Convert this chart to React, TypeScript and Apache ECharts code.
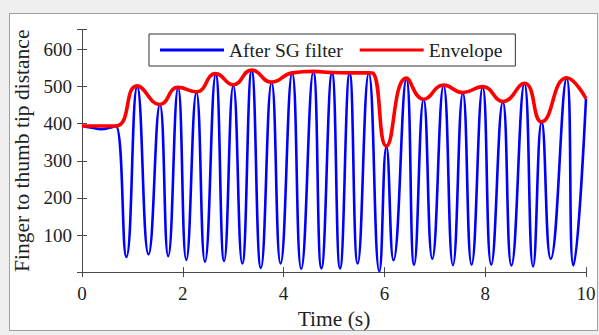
import React, { useEffect, useRef } from 'react';
import * as echarts from 'echarts';

// Savitzky-Golay filtered finger-to-thumb distance: turning points of the signal (s, px)
const sgTime = [
  0, 0.2, 0.38, 0.55, 0.67,
  0.88, 1.095, 1.32, 1.545, 1.71, 1.907, 2.07, 2.27, 2.44, 2.653,
  2.82, 3.002, 3.18, 3.366, 3.55, 3.762, 3.94, 4.17, 4.35, 4.59,
  4.75, 4.96, 5.12, 5.31, 5.47, 5.69, 5.9, 6.04, 6.18, 6.436,
  6.59, 6.778, 6.95, 7.174, 7.36, 7.557, 7.73, 7.95, 8.12, 8.35,
  8.52, 8.778, 8.95, 9.12, 9.3, 9.616, 9.75, 10,
];
const sgValue = [
  394, 389, 385, 389, 394,
  41, 500, 48, 452, 43, 497, 33, 484, 28, 533,
  30, 503, 23, 543, 11, 511, 23, 537, 9, 540,
  10, 537, 10, 536, 23, 536, 2, 338, 32, 521,
  20, 466, 36, 503, 19, 483, 20, 499, 20, 459,
  18, 508, 15, 405, 36, 523, 18, 468,
];

// Upper envelope through the peaks
const envTime = [
  0, 0.67, 1.095, 1.545, 1.907, 2.27, 2.653, 3.002, 3.366, 3.762,
  4.17, 4.59, 4.96, 5.31, 5.69, 5.775, 6.04, 6.436, 6.778, 7.174,
  7.557, 7.95, 8.35, 8.778, 9.12, 9.616, 10,
];
const envValue = [
  394, 394, 502, 452, 498, 486, 535, 505, 545, 512,
  537, 541, 538, 537, 537, 536, 340, 523, 466, 504,
  484, 500, 460, 509, 405, 524, 468,
];

const xTickLabels = [0, 2, 4, 6, 8, 10];
const yTickLabels = [100, 200, 300, 400, 500, 600];

const FONT = 'Liberation Serif';
const TEXT = '#222';
const AXIS = '#4a4a4a';

export default function App() {
  const ref = useRef<HTMLDivElement>(null);

  useEffect(() => {
    if (!ref.current) return;
    const chart = echarts.init(ref.current, undefined, { renderer: 'svg' });

    const sgData = sgTime.map((t, i) => [t, sgValue[i]]);
    const envData = envTime.map((t, i) => [t, envValue[i]]);

    const axisLine = { show: true, lineStyle: { color: AXIS, width: 1 } };
    const axisTick = { show: true, inside: true, length: 5, lineStyle: { color: AXIS, width: 1 } };

    chart.setOption({
      animation: false,
      backgroundColor: 'transparent',
      grid: { left: 82, top: 29.5, width: 504, height: 251.3, containLabel: false },
      legend: {
        data: ['After SG filter', 'Envelope'],
        left: 149,
        top: 34,
        orient: 'horizontal',
        icon: 'rect',
        itemWidth: 64,
        itemHeight: 3,
        itemGap: 17,
        padding: [6, 13, 6, 11],
        backgroundColor: '#ffffff',
        borderColor: '#333333',
        borderWidth: 1,
        borderRadius: 0,
        textStyle: { fontFamily: FONT, fontSize: 19.5, color: TEXT },
      },
      xAxis: [
        {
          type: 'value',
          position: 'bottom',
          min: xTickLabels[0],
          max: xTickLabels[xTickLabels.length - 1],
          interval: 2,
          name: 'Time (s)',
          nameLocation: 'middle',
          nameGap: 24.5,
          nameTextStyle: { fontFamily: FONT, fontSize: 21.5, color: TEXT },
          axisLine,
          axisTick,
          splitLine: { show: false },
          axisLabel: {
            margin: 12,
            fontFamily: FONT,
            fontSize: 19,
            color: TEXT,
            formatter: (v: number) => (xTickLabels.includes(v) ? String(v) : ''),
          },
        },
        {
          type: 'value',
          position: 'top',
          min: 0,
          max: 10,
          interval: 2,
          axisLine,
          axisTick,
          axisLabel: { show: false },
          splitLine: { show: false },
        },
      ],
      yAxis: [
        {
          type: 'value',
          position: 'left',
          min: 0,
          max: 654,
          interval: 100,
          name: 'Finger to thumb tip distance',
          nameLocation: 'middle',
          nameGap: 42,
          nameTextStyle: { fontFamily: FONT, fontSize: 21.5, color: TEXT },
          axisLine,
          axisTick,
          splitLine: { show: false },
          axisLabel: {
            margin: 10,
            fontFamily: FONT,
            fontSize: 19,
            color: TEXT,
            formatter: (v: number) => (yTickLabels.includes(v) ? String(v) : ''),
          },
        },
        {
          type: 'value',
          position: 'right',
          min: 0,
          max: 654,
          interval: 100,
          axisLine,
          axisTick,
          axisLabel: { show: false },
          splitLine: { show: false },
        },
      ],
      series: [
        {
          name: 'After SG filter',
          type: 'line',
          data: sgData,
          smooth: 0.5,
          showSymbol: false,
          color: '#0000ff',
          lineStyle: { color: '#0000ff', width: 2.6 },
          z: 2,
        },
        {
          name: 'Envelope',
          type: 'line',
          data: envData,
          smooth: 0.5,
          showSymbol: false,
          color: '#ff0000',
          lineStyle: { color: '#ff0000', width: 3.6 },
          z: 3,
        },
      ],
    });

    return () => chart.dispose();
  }, []);

  return (
    <div style={{ position: 'fixed', left: 0, top: 0, width: 599, height: 335, background: '#efefef' }}>
      <div
        style={{
          position: 'absolute',
          left: 9,
          top: 13,
          width: 587,
          height: 316,
          background: '#ffffff',
          border: '1px solid #a0a0a0',
        }}
      />
      <div ref={ref} style={{ position: 'absolute', left: 0, top: 0, width: 599, height: 335 }} />
    </div>
  );
}
